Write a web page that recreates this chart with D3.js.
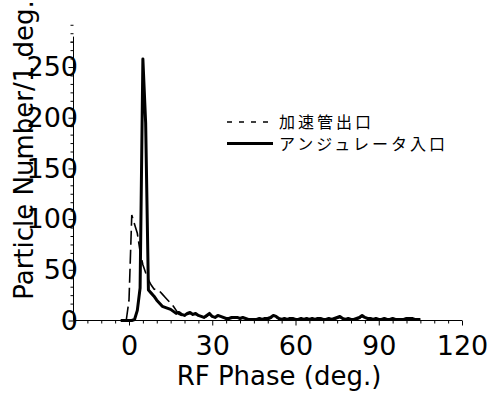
<!DOCTYPE html>
<html>
<head>
<meta charset="utf-8">
<script src="https://cdn.jsdelivr.net/npm/d3@7"></script>
<style>
  body { margin: 0; background: #fff; }
  svg { display: block; }
</style>
</head>
<body>
<div id="chart"></div>
<script>
// 1 deg bins, counts
var solidPhase = [
  -3, -2, -1, 0, 1, 2, 3, 4, 5, 6,
  7, 8, 9, 10, 11, 12, 13, 14, 15, 16,
  17, 18, 19, 20, 21, 22, 23, 24, 25, 26,
  27, 28, 29, 30, 31, 32, 33, 34, 35, 36,
  37, 38, 39, 40, 41, 42, 43, 44, 45, 46,
  47, 48, 49, 50, 51, 52, 53, 54, 55, 56,
  57, 58, 59, 60, 61, 62, 63, 64, 65, 66,
  67, 68, 69, 70, 71, 72, 73, 74, 75, 76,
  77, 78, 79, 80, 81, 82, 83, 84, 85, 86,
  87, 88, 89, 90, 91, 92, 93, 94, 95, 96,
  97, 98, 99, 100, 101, 102, 103, 104, 105
];
var solidCount = [
  0, 0, 0, 0, 0, 1, 10, 32, 258, 195,
  30, 27, 24, 20, 17, 14, 13, 12, 11, 9,
  7, 8, 6, 5, 7, 8, 6, 7, 5, 4,
  3, 5, 7, 4, 3, 5, 4, 3, 2, 2,
  3, 3, 3, 2, 3, 2, 1, 1, 1, 1,
  2, 1, 2, 2, 3, 5, 4, 2, 1, 2,
  1, 2, 2, 1, 1, 2, 1, 2, 1, 2,
  1, 2, 2, 1, 1, 2, 1, 2, 3, 4,
  2, 1, 2, 1, 1, 2, 3, 5, 3, 2,
  2, 1, 2, 1, 1, 2, 1, 1, 2, 1,
  1, 1, 1, 2, 2, 2, 1, 1, 1
];

var dashPhase = [
  -1, 0, 1, 2, 3, 4, 5, 6, 7, 8,
  9, 10, 11, 12, 13, 14, 15, 16, 17, 18,
  19, 20, 21, 22, 23, 24, 25, 26, 27, 28,
  29, 30, 31, 32, 33, 34, 35, 36, 37, 38,
  39, 40, 41, 42, 43, 44, 45, 46, 47, 48,
  49, 50, 51, 52, 53, 54, 55, 56, 57, 58,
  59, 60, 61, 62, 63, 64, 65, 66, 67, 68,
  69, 70, 71, 72, 73, 74, 75, 76, 77, 78,
  79, 80, 81, 82, 83, 84, 85, 86, 87, 88,
  89, 90, 91, 92, 93, 94, 95, 96, 97, 98,
  99, 100, 101, 102, 103, 104, 105
];
var dashCount = [
  0, 20, 104, 95, 86, 68, 55, 47, 40, 35,
  31, 30, 29, 26, 23, 20, 17, 14, 10, 6,
  5, 5, 6, 7, 6, 6, 5, 4, 3, 4,
  6, 4, 3, 4, 3, 3, 2, 2, 2, 3,
  2, 2, 2, 2, 1, 1, 1, 1, 1, 1,
  2, 1, 2, 4, 3, 2, 1, 1, 1, 1,
  2, 1, 1, 1, 1, 1, 1, 1, 1, 1,
  2, 1, 1, 1, 1, 1, 2, 3, 2, 1,
  1, 1, 1, 1, 2, 4, 2, 1, 1, 1,
  1, 1, 1, 1, 1, 1, 1, 1, 1, 1,
  1, 1, 1, 1, 1, 1, 1
];

var xMajor = [0, 30, 60, 90, 120];
var xMinor = [-20, -15, -10, -5, 5, 10, 15, 20, 25, 35, 40, 45, 50, 55, 65, 70, 75, 80, 85, 95, 100, 105, 110, 115];
var yMajor = [0, 50, 100, 150, 200, 250];
var seriesNames = ['加速管出口', 'アンジュレータ入口'];

var width = 497;
var height = 394;

var x = d3.scaleLinear().domain([-20, 120]).range([73.5, 462]);
var y = d3.scaleLinear().domain([0, 280]).range([320.5, 36.6]);

var svg = d3.select('#chart').append('svg')
  .attr('width', width)
  .attr('height', height)
  .style('font-family', '"DejaVu Sans", sans-serif');

// minor y ticks: six per 50 counts
var yMinor = [];
yMajor.forEach(function (v) {
  for (var k = 1; k < 6; k++) yMinor.push(v + k * 50 / 6);
});
yMinor.push(275);

var xAxis = svg.append('g')
  .attr('transform', 'translate(0,' + y(0) + ')')
  .call(d3.axisBottom(x).tickValues(xMajor).tickSize(5).tickPadding(10).tickSizeOuter(0));
xAxis.select('.domain').attr('d', 'M' + x(-20) + ',0H' + x(120));
xAxis.selectAll('text').attr('font-size', 27).attr('font-family', '"DejaVu Sans", sans-serif');

svg.append('g')
  .attr('transform', 'translate(0,' + y(0) + ')')
  .call(d3.axisBottom(x).tickValues(xMinor).tickSize(3).tickFormat(''))
  .select('.domain').remove();

var yAxis = svg.append('g')
  .attr('transform', 'translate(' + x(-20) + ',0)')
  .call(d3.axisLeft(y).tickValues(yMajor).tickSize(5).tickPadding(-9.5).tickSizeOuter(0));
yAxis.select('.domain').attr('d', 'M0,' + y(0) + 'V' + y(280));
yAxis.selectAll('text').attr('font-size', 27).attr('font-family', '"DejaVu Sans", sans-serif');

svg.append('g')
  .attr('transform', 'translate(' + x(-20) + ',0)')
  .call(d3.axisLeft(y).tickValues(yMinor).tickSize(3).tickFormat(''))
  .select('.domain').remove();

// series
var line = d3.line()
  .x(function (d) { return x(d[0]); })
  .y(function (d) { return y(d[1]); });

svg.append('path')
  .datum(d3.zip(dashPhase, dashCount))
  .attr('d', line)
  .attr('fill', 'none')
  .attr('stroke', '#000')
  .attr('stroke-width', 1.6)
  .attr('stroke-dasharray', '14,5');

svg.append('path')
  .datum(d3.zip(solidPhase, solidCount))
  .attr('d', line)
  .attr('fill', 'none')
  .attr('stroke', '#000')
  .attr('stroke-width', 3)
  .attr('stroke-linejoin', 'round');

// axis titles
svg.append('text')
  .attr('x', 279)
  .attr('y', 385)
  .attr('text-anchor', 'middle')
  .attr('font-size', 26)
  .text('RF Phase (deg.)');

svg.append('text')
  .attr('transform', 'translate(33,150) rotate(-90)')
  .attr('text-anchor', 'middle')
  .attr('font-size', 26)
  .text('Particle Number/1 deg.');

// legend
var legend = svg.append('g')
  .style('font-family', '"Noto Sans CJK JP", sans-serif')
  .attr('font-size', 16);

legend.append('line')
  .attr('x1', 227).attr('x2', 273)
  .attr('y1', 122).attr('y2', 122)
  .attr('stroke', '#000').attr('stroke-width', 1.3)
  .attr('stroke-dasharray', '5,7');
legend.append('line')
  .attr('x1', 227).attr('x2', 273)
  .attr('y1', 143.5).attr('y2', 143.5)
  .attr('stroke', '#000').attr('stroke-width', 3);

legend.selectAll('text.name')
  .data(seriesNames)
  .enter().append('text')
  .attr('class', 'name')
  .attr('x', 279)
  .attr('y', function (d, i) { return 122 + i * 22; })
  .attr('dy', '0.35em')
  .attr('letter-spacing', 3)
  .text(function (d) { return d; });
</script>
</body>
</html>
